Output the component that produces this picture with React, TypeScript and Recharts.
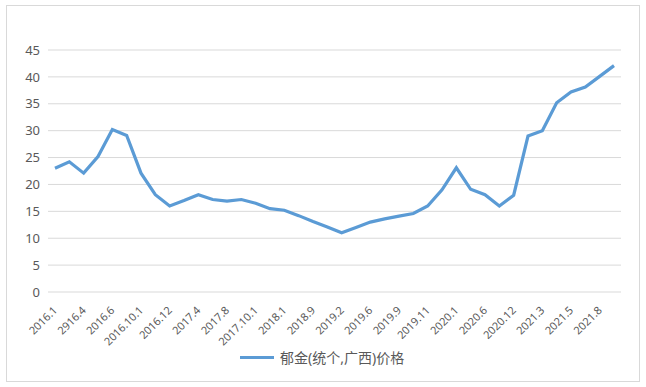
import { LineChart, Line, XAxis, YAxis, CartesianGrid } from "recharts";

// ─── Data ─────────────────────────────────────────────────────────────────────
// every other point carries a date label in the original, the rest are blank
const periods = [
  "2016.1", "", "2916.4", "", "2016.6", "", "2016.10.1", "", "2016.12", "",
  "2017.4", "", "2017.8", "", "2017.10.1", "", "2018.1", "", "2018.9", "",
  "2019.2", "", "2019.6", "", "2019.9", "", "2019.11", "", "2020.1", "",
  "2020.6", "", "2020.12", "", "2021.3", "", "2021.5", "", "2021.8", "",
];

const prices = [
  23, 24.2, 22.1, 25.2, 30.2, 29.1, 22.1, 18.1, 16, 17,
  18.1, 17.2, 16.9, 17.2, 16.5, 15.5, 15.2, 14.2, 13.1, 12.1,
  11, 12, 13, 13.6, 14.1, 14.6, 16, 19, 23.1, 19.1,
  18.1, 16, 18, 29, 30, 35.2, 37.2, 38.1, 40.1, 42.1,
];

const yTicks = [0, 5, 10, 15, 20, 25, 30, 35, 40, 45];

const seriesName = "郁金(统个,广西)价格";

const data = periods.map((p, i) => ({ id: i, period: p, price: prices[i] }));

const FONT = '"Noto Sans", "Noto Sans CJK SC", sans-serif';
const LINE_COLOR = "#5B9BD5";
const TEXT_COLOR = "#595959";

// ─── Rotated x tick ───────────────────────────────────────────────────────────
function SlantTick({ x, y, payload }: any) {
  const label = periods[payload.value];
  if (!label) return null;
  const ax = x + 3;
  const ay = y + 11;
  return (
    <text
      x={ax}
      y={ay}
      textAnchor="end"
      fontSize={11}
      fontFamily={FONT}
      fill={TEXT_COLOR}
      transform={`rotate(-45, ${ax}, ${ay})`}
    >
      {label}
    </text>
  );
}

export default function App() {
  return (
    <div style={{ position: "absolute", left: 0, top: 0, width: 646, height: 387, background: "#fff" }}>
      <div
        style={{
          position: "absolute",
          left: 6,
          top: 5,
          width: 632,
          height: 375,
          border: "1px solid #D9D9D9",
        }}
      />
      <LineChart
        width={646}
        height={387}
        data={data}
        margin={{ top: 50, right: 25, left: 8, bottom: 35 }}
        style={{ position: "absolute", left: 0, top: 0 }}
      >
        <CartesianGrid vertical={false} stroke="#D9D9D9" strokeWidth={1} />
        <XAxis
          dataKey="id"
          type="category"
          axisLine={false}
          tickLine={false}
          interval={0}
          height={60}
          padding={{ left: 7, right: 7 }}
          tick={<SlantTick />}
        />
        <YAxis
          width={40}
          domain={[0, 45]}
          ticks={yTicks}
          axisLine={false}
          tickLine={false}
          tick={{ fontSize: 13, fill: TEXT_COLOR, fontFamily: FONT }}
        />
        <Line
          type="linear"
          dataKey="price"
          stroke={LINE_COLOR}
          strokeWidth={3.2}
          dot={false}
          isAnimationActive={false}
        />
      </LineChart>
      <div
        style={{
          position: "absolute",
          left: 240,
          top: 347,
          display: "flex",
          alignItems: "center",
          gap: 6,
          fontFamily: FONT,
          fontSize: 14,
          color: TEXT_COLOR,
        }}
      >
        <span style={{ display: "inline-block", width: 34, height: 3, background: LINE_COLOR }} />
        <span>{seriesName}</span>
      </div>
    </div>
  );
}
